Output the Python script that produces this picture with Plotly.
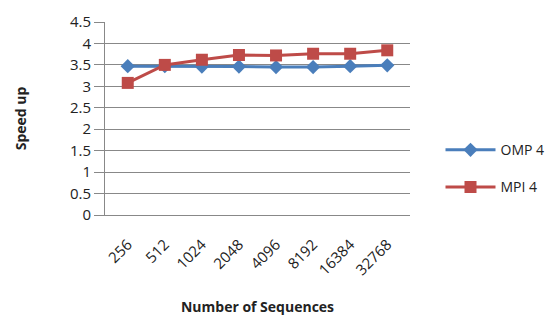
import plotly.graph_objects as go

categories = ["256", "512", "1024", "2048", "4096", "8192", "16384", "32768"]
omp4 = [3.47, 3.47, 3.46, 3.46, 3.45, 3.45, 3.47, 3.49]
mpi4 = [3.08, 3.50, 3.62, 3.73, 3.72, 3.76, 3.76, 3.84]

fig = go.Figure()
fig.add_trace(go.Scatter(x=categories, y=omp4, name="OMP 4", mode="lines+markers",
                         legendgroup="a",
                         line=dict(color="#4A7EBB", width=3),
                         marker=dict(symbol="diamond", size=11, color="#4A7EBB")))
fig.add_trace(go.Scatter(x=categories, y=mpi4, name="MPI 4", mode="lines+markers",
                         legendgroup="b",
                         line=dict(color="#BE4B48", width=3),
                         marker=dict(symbol="square", size=12, color="#BE4B48")))

fig.update_layout(
    width=553, height=320,
    margin=dict(l=97, r=145, t=14, b=113),
    plot_bgcolor="white", paper_bgcolor="white",
    font=dict(family="Open Sans, Liberation Sans, sans-serif", size=14, color="#222"),
    showlegend=True,
    legend=dict(x=1.1, y=0.24, xanchor="left", yanchor="middle",
                traceorder="grouped", itemwidth=50,
                font=dict(size=14, color="#222"), tracegroupgap=16,
                bgcolor="rgba(0,0,0,0)"),
    xaxis=dict(type="category", tickangle=-45, showgrid=False, automargin=False,
               showline=True, linecolor="#888", linewidth=1,
               ticks="", tickfont=dict(size=15), ticklabelstandoff=14,
               title=dict(text="<b>Number of Sequences</b>", font=dict(size=14), standoff=24)),
    yaxis=dict(range=[0, 4.5], dtick=0.5, showgrid=True, gridcolor="#888", gridwidth=1,
               showline=True, linecolor="#888", linewidth=1, automargin=False,
               ticks="outside", ticklen=10, tickcolor="#888", zeroline=False,
               tickfont=dict(size=15),
               title=dict(text="<b>Speed up</b>", font=dict(size=14), standoff=40)),
)

fig.write_html("out.html")
